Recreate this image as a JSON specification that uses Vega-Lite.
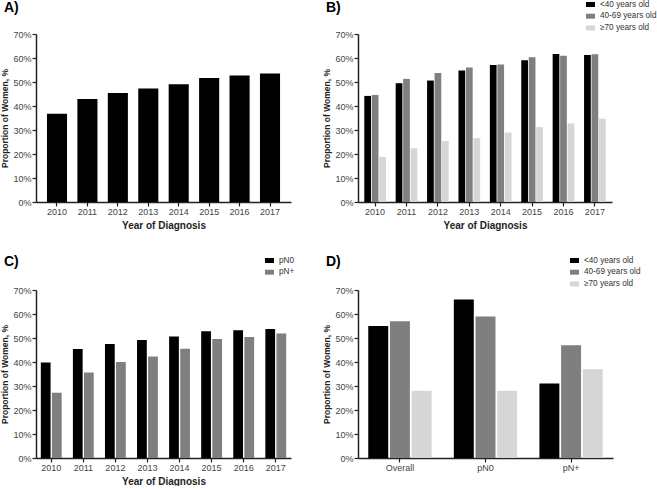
{
  "$schema": "https://vega.github.io/schema/vega-lite/v6.json",
  "background": "white",
  "padding": {"left": 0, "top": 0, "right": 0, "bottom": 0},
  "columns": 2,
  "spacing": {"row": 25, "column": 27},
  "resolve": {"scale": {"color": "independent", "x": "independent", "xOffset": "independent", "y": "independent"}},
  "config": {
    "font": "Liberation Sans",
    "view": {"stroke": null},
    "axis": {"grid": false, "domainColor": "#222222", "domainWidth": 1.5, "tickColor": "#222222", "tickWidth": 1.2, "labelFontSize": 9, "labelColor": "#444444", "titleColor": "#222222", "titleFontWeight": "bold"},
    "axisX": {"labelAngle": 0, "tickSize": 4, "labelPadding": 1, "titleFontSize": 10, "titlePadding": 4},
    "axisY": {"values": [0,5,10,15,20,25,30,35,40,45,50,55,60,65,70], "labelExpr": "datum.value % 10 === 0 ? datum.value + '%' : ''", "tickSize": {"condition": {"test": "datum.value % 10 === 0", "value": 4}, "value": 2.5}, "labelPadding": 1, "titleFontSize": 8.5, "titlePadding": 3},
    "legend": {"orient": "none", "title": null, "labelFontSize": 8.2, "labelColor": "#333333", "symbolType": "M-1,-0.55H1V0.55H-1Z", "symbolSize": 81, "symbolStrokeWidth": 0, "rowPadding": 2.7, "labelOffset": 5},
    "title": {"anchor": "start", "frame": "group", "fontSize": 14, "fontWeight": "bold", "color": "#000000"}
  },
  "concat": [
    {
      "title": {"text": "A)", "dx": -32, "offset": 15},
      "width": 255, "height": 168,
      "data": {"values": [
        {"year": "2010", "pct": 36.8}, {"year": "2011", "pct": 42.9}, {"year": "2012", "pct": 45.4}, {"year": "2013", "pct": 47.3},
        {"year": "2014", "pct": 49.1}, {"year": "2015", "pct": 51.7}, {"year": "2016", "pct": 52.7}, {"year": "2017", "pct": 53.5}
      ]},
      "mark": {"type": "bar", "color": "#000000"},
      "encoding": {
        "x": {"field": "year", "type": "nominal", "scale": {"paddingInner": 0.34, "paddingOuter": 0.36}, "axis": {"title": "Year of Diagnosis"}},
        "y": {"field": "pct", "type": "quantitative", "scale": {"domain": [0, 70], "nice": false}, "axis": {"title": "Proportion of Women, %"}}
      }
    },
    {
      "title": {"text": "B)", "dx": -32, "dy": 29, "offset": 14},
      "width": 254, "height": 168,
      "data": {"values": [
        {"year": "2010", "group": "<40 years old", "pct": 44.2}, {"year": "2011", "group": "<40 years old", "pct": 49.5},
        {"year": "2012", "group": "<40 years old", "pct": 50.6}, {"year": "2013", "group": "<40 years old", "pct": 54.8},
        {"year": "2014", "group": "<40 years old", "pct": 57.1}, {"year": "2015", "group": "<40 years old", "pct": 59.1},
        {"year": "2016", "group": "<40 years old", "pct": 61.7}, {"year": "2017", "group": "<40 years old", "pct": 61.3},
        {"year": "2010", "group": "40-69 years old", "pct": 44.6}, {"year": "2011", "group": "40-69 years old", "pct": 51.3},
        {"year": "2012", "group": "40-69 years old", "pct": 53.8}, {"year": "2013", "group": "40-69 years old", "pct": 56.0},
        {"year": "2014", "group": "40-69 years old", "pct": 57.3}, {"year": "2015", "group": "40-69 years old", "pct": 60.3},
        {"year": "2016", "group": "40-69 years old", "pct": 60.9}, {"year": "2017", "group": "40-69 years old", "pct": 61.6},
        {"year": "2010", "group": "≥70 years old", "pct": 18.8}, {"year": "2011", "group": "≥70 years old", "pct": 22.4},
        {"year": "2012", "group": "≥70 years old", "pct": 25.4}, {"year": "2013", "group": "≥70 years old", "pct": 26.6},
        {"year": "2014", "group": "≥70 years old", "pct": 28.9}, {"year": "2015", "group": "≥70 years old", "pct": 31.2},
        {"year": "2016", "group": "≥70 years old", "pct": 32.7}, {"year": "2017", "group": "≥70 years old", "pct": 34.7}
      ]},
      "mark": {"type": "bar"},
      "encoding": {
        "x": {"field": "year", "type": "nominal", "scale": {"paddingInner": 0.31, "paddingOuter": 0.2}, "axis": {"title": "Year of Diagnosis"}},
        "xOffset": {"field": "group", "type": "nominal", "sort": ["<40 years old", "40-69 years old", "≥70 years old"], "scale": {"paddingInner": 0.1, "paddingOuter": 0}},
        "y": {"field": "pct", "type": "quantitative", "scale": {"domain": [0, 70], "nice": false}, "axis": {"title": "Proportion of Women, %"}},
        "color": {"field": "group", "type": "nominal", "scale": {"domain": ["<40 years old", "40-69 years old", "≥70 years old"], "range": ["#000000", "#7f7f7f", "#d6d6d6"]}, "legend": {"legendX": 228, "legendY": -34}}
      }
    },
    {
      "title": {"text": "C)", "dx": -32, "dy": 27, "offset": 14},
      "width": 255, "height": 168,
      "data": {"values": [
        {"year": "2010", "group": "pN0", "pct": 39.8}, {"year": "2011", "group": "pN0", "pct": 45.4},
        {"year": "2012", "group": "pN0", "pct": 47.5}, {"year": "2013", "group": "pN0", "pct": 49.2},
        {"year": "2014", "group": "pN0", "pct": 50.6}, {"year": "2015", "group": "pN0", "pct": 52.8},
        {"year": "2016", "group": "pN0", "pct": 53.2}, {"year": "2017", "group": "pN0", "pct": 53.8},
        {"year": "2010", "group": "pN+", "pct": 27.2}, {"year": "2011", "group": "pN+", "pct": 35.6},
        {"year": "2012", "group": "pN+", "pct": 40.0}, {"year": "2013", "group": "pN+", "pct": 42.3},
        {"year": "2014", "group": "pN+", "pct": 45.5}, {"year": "2015", "group": "pN+", "pct": 49.6},
        {"year": "2016", "group": "pN+", "pct": 50.4}, {"year": "2017", "group": "pN+", "pct": 51.9}
      ]},
      "mark": {"type": "bar"},
      "encoding": {
        "x": {"field": "year", "type": "nominal", "scale": {"paddingInner": 0.35, "paddingOuter": 0.15}, "axis": {"title": "Year of Diagnosis"}},
        "xOffset": {"field": "group", "type": "nominal", "sort": ["pN0", "pN+"], "scale": {"paddingInner": 0.12, "paddingOuter": 0}},
        "y": {"field": "pct", "type": "quantitative", "scale": {"domain": [0, 70], "nice": false}, "axis": {"title": "Proportion of Women, %"}},
        "color": {"field": "group", "type": "nominal", "scale": {"domain": ["pN0", "pN+"], "range": ["#000000", "#7f7f7f"]}, "legend": {"legendX": 229, "legendY": -34}}
      }
    },
    {
      "title": {"text": "D)", "dx": -32, "dy": 27, "offset": 14},
      "width": 255, "height": 168,
      "data": {"values": [
        {"cat": "Overall", "group": "<40 years old", "pct": 55}, {"cat": "Overall", "group": "40-69 years old", "pct": 57}, {"cat": "Overall", "group": "≥70 years old", "pct": 28},
        {"cat": "pN0", "group": "<40 years old", "pct": 66}, {"cat": "pN0", "group": "40-69 years old", "pct": 59}, {"cat": "pN0", "group": "≥70 years old", "pct": 28},
        {"cat": "pN+", "group": "<40 years old", "pct": 31}, {"cat": "pN+", "group": "40-69 years old", "pct": 47}, {"cat": "pN+", "group": "≥70 years old", "pct": 37}
      ]},
      "mark": {"type": "bar"},
      "encoding": {
        "x": {"field": "cat", "type": "nominal", "sort": ["Overall", "pN0", "pN+"], "scale": {"paddingInner": 0.26, "paddingOuter": 0.12}, "axis": {"title": null}},
        "xOffset": {"field": "group", "type": "nominal", "sort": ["<40 years old", "40-69 years old", "≥70 years old"], "scale": {"paddingInner": 0.08, "paddingOuter": 0}},
        "y": {"field": "pct", "type": "quantitative", "scale": {"domain": [0, 70], "nice": false}, "axis": {"title": "Proportion of Women, %"}},
        "color": {"field": "group", "type": "nominal", "scale": {"domain": ["<40 years old", "40-69 years old", "≥70 years old"], "range": ["#000000", "#7f7f7f", "#d6d6d6"]}, "legend": {"legendX": 212, "legendY": -34}}
      }
    }
  ]
}
